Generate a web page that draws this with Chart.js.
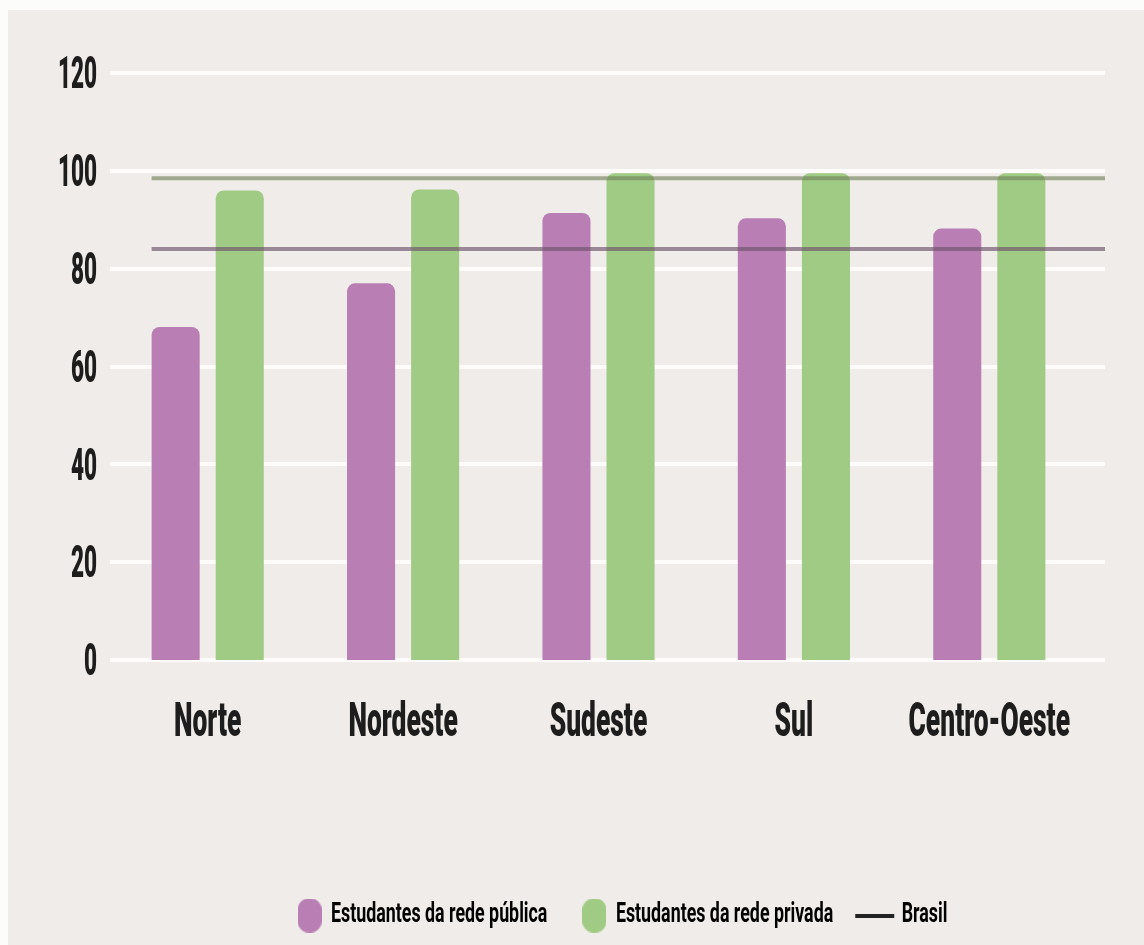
<!DOCTYPE html>
<html lang="pt-BR">
<head>
<meta charset="utf-8">
<script src="https://cdn.jsdelivr.net/npm/chart.js@4.4.1/dist/chart.umd.min.js"></script>
<style>
  html, body { margin: 0; background: #fcfcfb; }
  #wrap { position: relative; width: 1144px; height: 945px; }
  #bg { position: absolute; left: 8px; top: 10px; right: 0; bottom: 0; background: #f0ece9; }
  #wrap canvas { position: absolute; left: 0; top: 0; }
</style>
</head>
<body>
<div id="wrap">
  <div id="bg"></div>
  <canvas id="chart" width="1144" height="945"></canvas>
</div>
<script>
const regioes = ["Norte", "Nordeste", "Sudeste", "Sul", "Centro-Oeste"];
const redePublica = [68.1, 77.0, 91.4, 90.3, 88.2];
const redePrivada = [96.0, 96.2, 99.5, 99.5, 99.5];
// médias nacionais (linhas "Brasil")
const brasilPublica = 84.0;
const brasilPrivada = 98.5;

const corPublica = "#b97fb5";
const corPrivada = "#a0cb84";
const fonte = "Roboto, 'DejaVu Sans', sans-serif";

// condensed lettering: glyphs are squeezed horizontally, and the
// measured widths follow so Chart.js lays the labels out correctly
function condensar(ctx) {
  const fill = ctx.fillText.bind(ctx);
  const measure = ctx.measureText.bind(ctx);
  const fator = () => {
    const m = /(\d+(?:\.\d+)?)px/.exec(ctx.font);
    const size = m ? parseFloat(m[1]) : 12;
    if (size >= 47) return 0.55; // region names
    if (size >= 40) return 0.5; // y ticks
    return 0.66; // legend
  };
  ctx.fillText = (text, x, y) => {
    ctx.save();
    ctx.translate(x, y);
    ctx.scale(fator(), 1);
    fill(text, 0, 0);
    ctx.restore();
  };
  ctx.measureText = (text) => {
    const m = measure(text);
    return {
      width: m.width * fator(),
      actualBoundingBoxAscent: m.actualBoundingBoxAscent,
      actualBoundingBoxDescent: m.actualBoundingBoxDescent,
    };
  };
}

// small canvases used as legend markers
function blob(color) {
  const c = document.createElement("canvas");
  c.width = 24;
  c.height = 34;
  const g = c.getContext("2d");
  g.fillStyle = color;
  g.beginPath();
  g.roundRect(0, 0, 24, 34, 11);
  g.fill();
  return c;
}

function traco(color) {
  const c = document.createElement("canvas");
  c.width = 60;
  c.height = 4;
  const g = c.getContext("2d");
  g.fillStyle = color;
  g.fillRect(5, 0, 39, 4);
  return c;
}

// white grid lines behind the bars, Brasil lines on top of them
const linhasBrasil = {
  id: "linhasBrasil",
  beforeDatasetsDraw(chart) {
    const { ctx, chartArea, scales } = chart;
    const y = scales.y;
    ctx.save();
    ctx.strokeStyle = "#fdfcfb";
    ctx.lineWidth = 4;
    y.ticks.forEach((t) => {
      const py = Math.round(y.getPixelForValue(t.value));
      ctx.beginPath();
      ctx.moveTo(chartArea.left, py);
      ctx.lineTo(chartArea.right + 18, py);
      ctx.stroke();
    });
    ctx.restore();
  },
  afterDatasetsDraw(chart) {
    const { ctx, chartArea, scales } = chart;
    const y = scales.y;
    const first = chart.getDatasetMeta(0).data[0];
    const x0 = first.x - first.width / 2;
    const x1 = chartArea.right + 18;
    ctx.save();
    ctx.lineWidth = 4;
    [
      [brasilPrivada, "rgba(112,128,88,0.62)"],
      [brasilPublica, "rgba(110,84,106,0.66)"],
    ].forEach(([v, cor]) => {
      const py = y.getPixelForValue(v);
      ctx.strokeStyle = cor;
      ctx.beginPath();
      ctx.moveTo(x0, py);
      ctx.lineTo(x1, py);
      ctx.stroke();
    });
    ctx.restore();
  },
  afterLayout(chart) {
    // legend sits right of the canvas centre
    chart.legend.left += 81;
    chart.legend.right += 81;
  },
};

const ctx = document.getElementById("chart").getContext("2d");
condensar(ctx);

new Chart(ctx, {
  type: "bar",
  data: {
    labels: regioes,
    datasets: [
      {
        label: "Estudantes da rede pública",
        data: redePublica,
        backgroundColor: corPublica,
        borderRadius: { topLeft: 8, topRight: 8 },
        borderSkipped: "bottom",
        barPercentage: 0.75,
        categoryPercentage: 0.656,
      },
      {
        label: "Estudantes da rede privada",
        data: redePrivada,
        backgroundColor: corPrivada,
        borderRadius: { topLeft: 8, topRight: 8 },
        borderSkipped: "bottom",
        barPercentage: 0.75,
        categoryPercentage: 0.656,
      },
    ],
  },
  options: {
    responsive: false,
    animation: false,
    layout: {
      padding: { left: 0, right: 57, top: 73, bottom: 6 },
    },
    scales: {
      x: {
        grid: { display: false },
        border: { display: false },
        ticks: {
          color: "#1d1d1d",
          padding: 27,
          maxRotation: 0,
          minRotation: 0,
          autoSkip: false,
          font: { family: fonte, size: 48, weight: "900" },
        },
        afterFit(scale) {
          scale.height = 203;
        },
      },
      y: {
        min: 0,
        max: 120,
        grid: { display: false, drawTicks: false },
        border: { display: false },
        ticks: {
          stepSize: 20,
          color: "#1d1d1d",
          padding: 13,
          labelOffset: 4,
          font: { family: fonte, size: 45, weight: "900" },
        },
        afterFit(scale) {
          scale.width = 110;
        },
      },
    },
    plugins: {
      tooltip: { enabled: false },
      legend: {
        position: "bottom",
        labels: {
          usePointStyle: true,
          pointStyleWidth: 16,
          padding: 39,
          color: "#222",
          font: { family: fonte, size: 27, weight: "bold" },
          generateLabels: () => [
            { text: "Estudantes da rede pública", pointStyle: blob(corPublica), fillStyle: corPublica, strokeStyle: corPublica, lineWidth: 0, hidden: false, datasetIndex: 0 },
            { text: "Estudantes da rede privada", pointStyle: blob(corPrivada), fillStyle: corPrivada, strokeStyle: corPrivada, lineWidth: 0, hidden: false, datasetIndex: 1 },
            { text: "Brasil", pointStyle: traco("#222"), fillStyle: "#222", strokeStyle: "#222", lineWidth: 0, hidden: false },
          ],
        },
      },
    },
  },
  plugins: [linhasBrasil],
});
</script>
</body>
</html>
